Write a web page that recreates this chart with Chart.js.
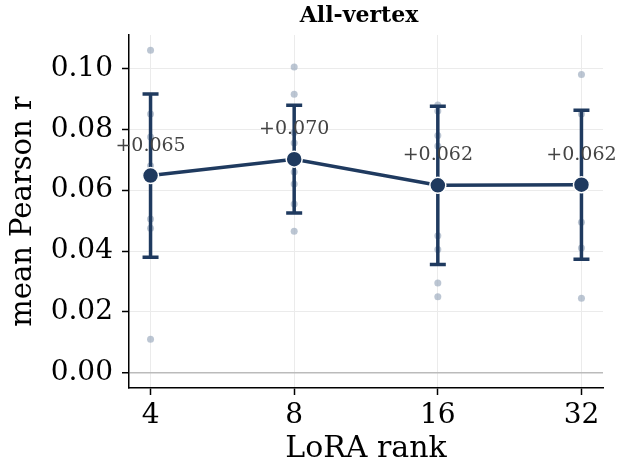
<!DOCTYPE html>
<html>
<head>
<meta charset="utf-8">
<script src="https://cdn.jsdelivr.net/npm/chart.js@4.4.1/dist/chart.umd.min.js"></script>
<style>
  html, body { margin: 0; padding: 0; background: #fff; }
  #wrap { width: 619px; height: 467px; }
</style>
</head>
<body>
<div id="wrap"><canvas id="rankChart" width="619" height="467"></canvas></div>
<script>
// LoRA rank sweep, all-vertex probe
const ranks = ['4', '8', '16', '32'];
const seedsRank4 = [0.106, 0.085, 0.0775, 0.068, 0.0505, 0.0475, 0.011];
const seedsRank8 = [0.1005, 0.0915, 0.079, 0.0755, 0.066, 0.062, 0.0555, 0.0465];
const seedsRank16 = [0.088, 0.086, 0.078, 0.0745, 0.045, 0.0405, 0.0295, 0.025];
const seedsRank32 = [0.098, 0.085, 0.0495, 0.041, 0.0245];
const meanR = [0.0648, 0.0702, 0.0616, 0.0618];
const stdR = [0.0268, 0.0177, 0.026, 0.0245];
const yTicks = [0, 0.02, 0.04, 0.06, 0.08, 0.1];

const NAVY = '#1f3a5f';
const SERIF = "'DejaVu Serif', serif";

const seedPoints = [];
[seedsRank4, seedsRank8, seedsRank16, seedsRank32].forEach((vals, i) => {
    vals.forEach(v => seedPoints.push({ x: i, y: v }));
});
const meanPoints = meanR.map((m, i) => ({ x: i, y: m }));

// error bars go under the mean line, value labels above everything
const errorBars = {
    id: 'errorBars',
    beforeDatasetDraw(chart, args) {
        if (args.index !== 0) return;
        const { ctx, scales: { x, y } } = chart;
        ctx.save();
        ctx.strokeStyle = NAVY;
        ctx.lineWidth = 3.5;
        meanR.forEach((m, i) => {
            const px = x.getPixelForValue(i);
            const top = y.getPixelForValue(m + stdR[i]);
            const bot = y.getPixelForValue(m - stdR[i]);
            ctx.beginPath();
            ctx.moveTo(px, top);
            ctx.lineTo(px, bot);
            ctx.moveTo(px - 8, top);
            ctx.lineTo(px + 8, top);
            ctx.moveTo(px - 8, bot);
            ctx.lineTo(px + 8, bot);
            ctx.stroke();
        });
        ctx.restore();
    },
    afterDraw(chart) {
        const { ctx, chartArea, scales: { x, y } } = chart;
        ctx.save();
        ctx.font = '19px ' + SERIF;
        ctx.fillStyle = '#444444';
        ctx.textAlign = 'center';
        ctx.textBaseline = 'middle';
        meanR.forEach((m, i) => {
            ctx.fillText('+' + m.toFixed(3), x.getPixelForValue(i), y.getPixelForValue(m) - 30);
        });
        // panel title sits over the plot area
        ctx.font = 'bold 22px ' + SERIF;
        ctx.fillStyle = '#000';
        ctx.fillText('All-vertex', (chartArea.left + chartArea.right) / 2 - 7, 16);
        ctx.restore();
    }
};

new Chart(document.getElementById('rankChart'), {
    type: 'scatter',
    data: {
        datasets: [
            {
                type: 'line',
                data: meanPoints,
                borderColor: NAVY,
                borderWidth: 3.5,
                pointRadius: 8,
                pointBackgroundColor: NAVY,
                pointBorderColor: '#ffffff',
                pointBorderWidth: 1.5,
                fill: false,
                tension: 0
            },
            {
                data: seedPoints,
                pointRadius: 3.5,
                pointBackgroundColor: 'rgba(160, 174, 192, 0.7)',
                pointBorderWidth: 0
            }
        ]
    },
    options: {
        responsive: false,
        animation: false,
        layout: { padding: { top: 35, right: 16, left: 0, bottom: 0 } },
        plugins: {
            legend: { display: false },
            tooltip: { enabled: false }
        },
        scales: {
            x: {
                type: 'linear',
                min: -0.15,
                max: 3.15,
                afterBuildTicks: scale => { scale.ticks = ranks.map((r, i) => ({ value: i })); },
                afterFit: scale => { scale.height = 79; },
                ticks: {
                    callback: v => ranks[v],
                    font: { family: SERIF, size: 28 },
                    color: '#000',
                    padding: 4,
                    maxRotation: 0
                },
                grid: { color: '#ebebeb', lineWidth: 1, tickColor: '#000', tickLength: 7, tickWidth: 1.5 },
                border: { color: '#000', width: 1.5 },
                title: {
                    display: true,
                    text: 'LoRA rank',
                    font: { family: SERIF, size: 30 },
                    color: '#000',
                    padding: { top: 0, bottom: 0 }
                }
            },
            y: {
                min: -0.005,
                max: 0.111,
                afterBuildTicks: scale => { scale.ticks = yTicks.map(v => ({ value: v })); },
                afterFit: scale => { scale.width = 129; },
                ticks: {
                    callback: v => v.toFixed(2),
                    font: { family: SERIF, size: 28 },
                    color: '#000',
                    padding: 9
                },
                grid: {
                    color: ctx => ctx.tick && ctx.tick.value === 0 ? '#bbbbbb' : '#ebebeb',
                    lineWidth: ctx => ctx.tick && ctx.tick.value === 0 ? 1.5 : 1,
                    tickColor: '#000',
                    tickLength: 7,
                    tickWidth: 1.5
                },
                border: { color: '#000', width: 1.5 },
                title: {
                    display: true,
                    text: 'mean Pearson r',
                    font: { family: SERIF, size: 29 },
                    color: '#000',
                    padding: { top: 6, bottom: 0 }
                }
            }
        }
    },
    plugins: [errorBars]
});
</script>
</body>
</html>
